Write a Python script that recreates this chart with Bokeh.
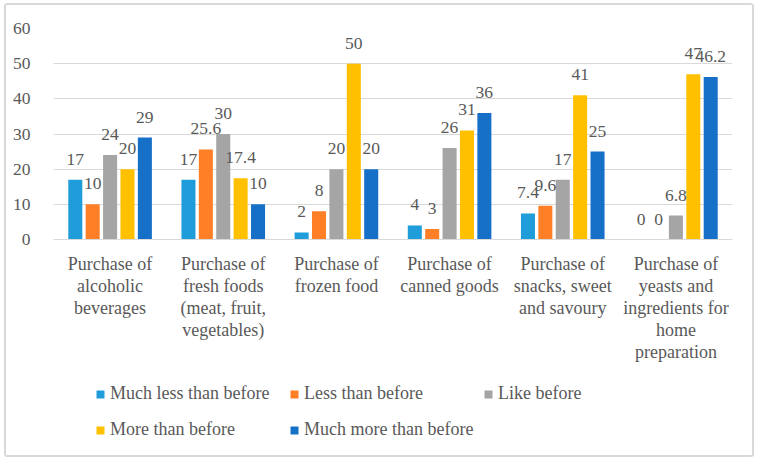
from bokeh.plotting import figure
from bokeh.models import ColumnDataSource, LabelSet, Legend, LegendItem, FixedTicker
from bokeh.layouts import column
from bokeh.transform import dodge
from bokeh.core.properties import value
from bokeh.embed import file_html
from bokeh.resources import INLINE

categories = [
    "Purchase of\nalcoholic\nbeverages",
    "Purchase of\nfresh foods\n(meat, fruit,\nvegetables)",
    "Purchase of\nfrozen food",
    "Purchase of\ncanned goods",
    "Purchase of\nsnacks, sweet\nand savoury",
    "Purchase of\nyeasts and\ningredients for\nhome\npreparation",
]
series_names = ["Much less than before", "Less than before", "Like before",
                "More than before", "Much more than before"]
much_less = [17, 17, 2, 4, 7.4, 0]
less = [10, 25.6, 8, 3, 9.6, 0]
like = [24, 30, 20, 26, 17, 6.8]
more = [20, 17.4, 50, 31, 41, 47]
much_more = [29, 10, 20, 36, 25, 46.2]
y_ticks = [0, 10, 20, 30, 40, 50, 60]

series_values = [much_less, less, like, more, much_more]
colors = ["#1F9DDB", "#FF7F27", "#A5A5A5", "#FFC000", "#1770C8"]

FONT = "Liberation Serif"
TXT = "#595959"

p = figure(x_range=categories, y_range=(0, 60), width=746, height=370,
           output_backend="svg", toolbar_location=None,
           min_border_left=47, min_border_right=20, min_border_top=23,
           min_border_bottom=136)
p.x_range.range_padding = 0
p.outline_line_color = None

step = 0.1537
bw = 0.124
for j, (vals, col) in enumerate(zip(series_values, colors)):
    src = ColumnDataSource(dict(cat=categories, val=vals,
                                lab=[f"{v:g}" for v in vals]))
    off = (j - 2) * step
    p.vbar(x=dodge("cat", off, range=p.x_range), top="val", width=bw,
           source=src, fill_color=col, line_color=None)
    lbl = LabelSet(x=dodge("cat", off, range=p.x_range), y="val", text="lab",
                   source=src, text_align="center", text_baseline="alphabetic",
                   y_offset=15, text_font=value(FONT), text_font_size="17.5px",
                   text_color=TXT)
    p.add_layout(lbl)

p.yaxis.ticker = FixedTicker(ticks=y_ticks)
p.yaxis.axis_line_color = None
p.yaxis.major_tick_line_color = None
p.yaxis.minor_tick_line_color = None
p.yaxis.major_label_standoff = 17
p.yaxis.major_label_text_font = FONT
p.yaxis.major_label_text_font_size = "17.5px"
p.yaxis.major_label_text_color = TXT

p.xaxis.axis_line_color = "#D9D9D9"
p.xaxis.major_tick_line_color = None
p.xaxis.minor_tick_line_color = None
p.xaxis.major_label_standoff = 8
p.xaxis.major_label_text_font = FONT
p.xaxis.major_label_text_font_size = "18px"
p.xaxis.major_label_text_color = TXT
p.xaxis.major_label_text_line_height = 1.1

p.xgrid.grid_line_color = None
p.ygrid.grid_line_color = "#D9D9D9"
p.ygrid.grid_line_width = 1

# legend figure (same borders as the chart so frames line up)
lf = figure(width=746, height=80, x_range=(0, 1), y_range=(0, 1),
            output_backend="svg", toolbar_location=None,
            min_border_left=47, min_border_right=20, min_border_top=0,
            min_border_bottom=0)
lf.axis.visible = False
lf.grid.grid_line_color = None
lf.outline_line_color = None
items = []
for name, col in zip(series_names, colors):
    # dummy renderer entirely outside the visible ranges, only for the swatch
    r = lf.vbar(x=[-5], bottom=[-3], top=[-2], width=0.1,
                fill_color=col, line_color=None)
    items.append(LegendItem(label=name, renderers=[r]))
legend = Legend(items=items, ncols=3, orientation="horizontal",
                location=(42, 12), glyph_width=10, glyph_height=10,
                label_standoff=5, label_width=170, label_height=27,
                spacing=9, padding=0, margin=0, border_line_color=None,
                background_fill_alpha=0,
                label_text_font=FONT, label_text_font_size="18px",
                label_text_color=TXT)
lf.add_layout(legend, "center")

layout = column(p, lf, spacing=0,
                styles={"border": "2px solid #D9D9D9", "border-radius": "3px",
                        "margin-left": "4px", "margin-top": "3px"})

open("out.html", "w").write(file_html(layout, INLINE))
